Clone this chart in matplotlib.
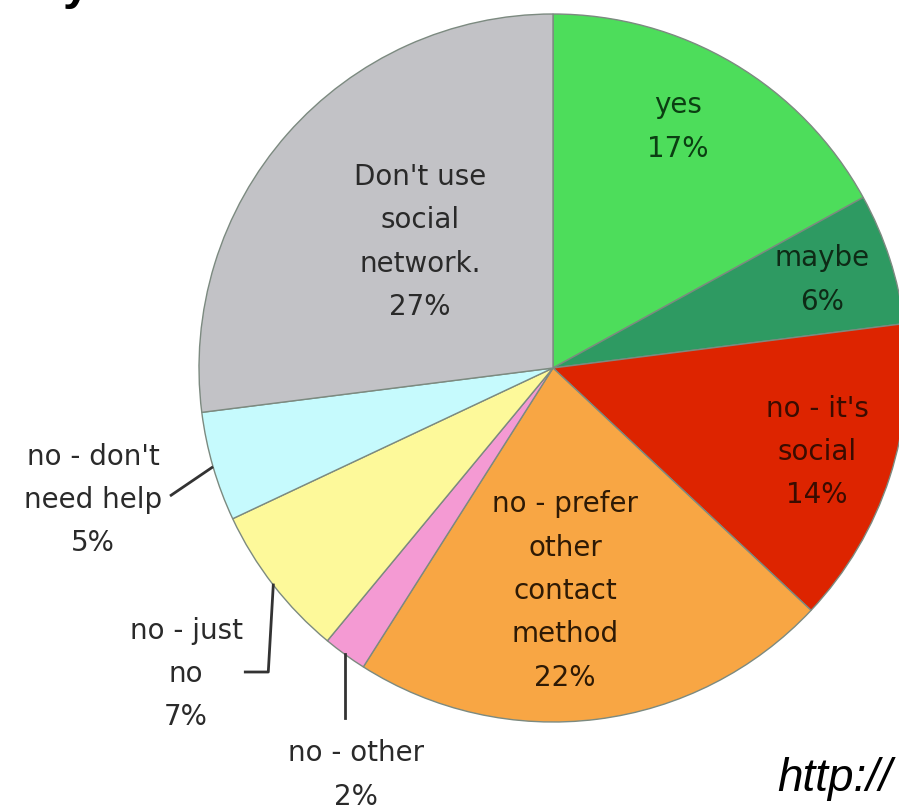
import matplotlib
matplotlib.use("Agg")
import matplotlib.pyplot as plt
import numpy as np

# survey answers, clockwise from 12 o'clock
answers = ["yes", "maybe", "no - it's\nsocial", "no - prefer\nother\ncontact\nmethod",
           "no - other", "no - just\nno", "no - don't\nneed help",
           "Don't use\nsocial\nnetwork."]
shares = [17, 6, 14, 22, 2, 7, 5, 27]

colors = ["#4DDD5B", "#2E9A62", "#DD2400", "#F8A644",
          "#F49AD3", "#FDF99A", "#C6FAFD", "#C2C2C6"]
text_colors = ["#0B3F12", "#0E2A16", "#3A0C00", "#2E1A05",
               "#2a2a2a", "#2a2a2a", "#2a2a2a", "#2a2a2a"]

W, H = 899, 809
fig = plt.figure(figsize=(W / 100, H / 100), dpi=100)
ax = fig.add_axes([0, 0, 1, 1])

# pixel coordinates, y pointing down
cx, cy, r = 553, 368, 354
wedges, _ = ax.pie(shares, colors=colors, startangle=-90, counterclock=True,
                   center=(cx, cy), radius=r,
                   wedgeprops=dict(edgecolor="#7c8a80", linewidth=1.0))
ax.set_xlim(0, W)
ax.set_ylim(H, 0)
ax.set_aspect("equal")
ax.axis("off")

fs = 20
# label block centres (inside slices and outside ones)
label_pos = [(678, 127), (822, 280), (817, 452), (565, 591),
             (356, 775), (186, 674), (93, 500), (420, 242)]
for txt, v, (x, y), c in zip(answers, shares, label_pos, text_colors):
    ax.text(x, y, f"{txt}\n{v}%", ha="center", va="center", fontsize=fs,
            color=c, linespacing=1.7)

def edge_point(w, frac=1.0):
    a = np.deg2rad((w.theta1 + w.theta2) / 2)
    return cx + r * frac * np.cos(a), cy + r * frac * np.sin(a)

lc = "#333333"
# no - don't need help
ex, ey = edge_point(wedges[6])
ax.plot([170, ex], [496, ey], color=lc, lw=2, solid_capstyle="butt")
# no - just no
ex, ey = edge_point(wedges[5])
ax.plot([ex, ex - 5, ex - 28], [ey, 672, 672], color=lc, lw=2)
# no - other
ex, ey = edge_point(wedges[4])
ax.plot([ex, ex], [ey, 718], color=lc, lw=2)

# cropped title and url
ax.text(63, -1, "y", fontsize=35, fontweight="bold", family="Liberation Sans",
        va="baseline", ha="left", color="black")
ax.text(777, 791, "http://", fontsize=33, style="italic", family="Liberation Sans",
        va="baseline", ha="left", color="black")

fig.savefig("out.png", dpi=100)
